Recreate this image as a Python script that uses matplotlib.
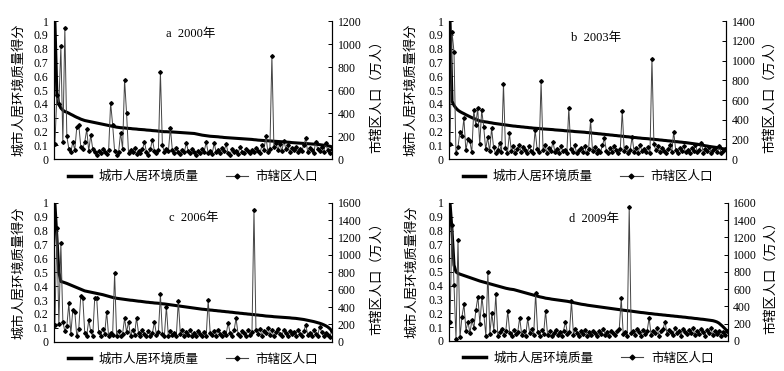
import matplotlib
matplotlib.use("Agg")
import matplotlib.pyplot as plt
from matplotlib.lines import Line2D

plt.rcParams['font.family'] = ['Liberation Serif', 'Noto Sans CJK SC', 'DejaVu Sans']
plt.rcParams['axes.unicode_minus'] = False

# 城市人居环境质量得分（按得分排序）与市辖区人口（万人）
quality_2000 = [
    1.0, 0.47, 0.40, 0.37, 0.355,
    0.345, 0.34, 0.333, 0.325, 0.318, 0.31, 0.303, 0.297, 0.29, 0.285, 0.28,
    0.277, 0.274, 0.271, 0.268, 0.265, 0.262, 0.259, 0.256, 0.253, 0.25, 0.247, 0.244, 0.241, 0.238, 0.235, 0.232, 0.23,
    0.228, 0.227, 0.226, 0.224, 0.223, 0.222, 0.220, 0.219, 0.218, 0.216, 0.215, 0.214, 0.213, 0.211, 0.210, 0.209,
    0.207, 0.206, 0.205, 0.203, 0.202, 0.200,
    0.199, 0.199, 0.198, 0.197, 0.197, 0.196, 0.195, 0.194, 0.193, 0.192, 0.191, 0.190, 0.189, 0.188, 0.187, 0.186,
    0.183, 0.180, 0.177, 0.174, 0.172, 0.170, 0.168, 0.166, 0.165, 0.164, 0.163, 0.162, 0.160, 0.159, 0.157,
    0.156, 0.155, 0.154, 0.153, 0.152, 0.151, 0.150, 0.149, 0.148, 0.147, 0.146, 0.145, 0.144, 0.143, 0.141, 0.140, 0.138,
    0.137, 0.136, 0.135, 0.134, 0.133, 0.132, 0.131, 0.130, 0.129, 0.128, 0.127, 0.126, 0.125, 0.124, 0.123, 0.122, 0.120,
    0.119, 0.118, 0.117, 0.116, 0.115, 0.114, 0.113, 0.112, 0.111, 0.110, 0.109, 0.108, 0.106, 0.105, 0.103, 0.101,
    0.099, 0.097, 0.094, 0.090,
]
pop_2000 = [
    130, 560, 480, 980, 150, 1140, 200, 90, 60, 150, 80, 280, 300, 110, 90, 150, 260, 70, 210, 90,
    60, 40, 70, 50, 90, 60, 45, 80, 490, 300, 70, 40, 60, 230, 90, 690, 400, 50, 80, 60,
    100, 45, 70, 55, 85, 150, 60, 40, 90, 170, 70, 55, 80, 760, 120, 60, 90, 70, 270, 80,
    50, 100, 65, 45, 80, 60, 140, 70, 50, 90, 60, 40, 75, 55, 85, 65, 150, 50, 70, 45,
    140, 60, 80, 50, 95, 70, 130, 55, 40, 85, 60, 75, 45, 110, 65, 50, 90, 70, 55, 80,
    60, 100, 70, 50, 120, 80, 200, 60, 90, 900, 110, 140, 80, 130, 70, 160, 90, 120, 60, 100,
    80, 110, 60, 90, 70, 120, 180, 60, 100, 80, 50, 150, 90, 70, 110, 60, 140, 80, 50, 90,
]

quality_2003 = [
    1.0, 0.42, 0.39, 0.37, 0.355,
    0.345, 0.337, 0.33, 0.322, 0.315, 0.308, 0.301, 0.295, 0.289, 0.283, 0.277,
    0.275, 0.272, 0.270, 0.268, 0.265, 0.263, 0.260, 0.258, 0.256, 0.254, 0.252, 0.250, 0.248, 0.246, 0.244, 0.242, 0.240,
    0.239, 0.237, 0.236, 0.234, 0.233, 0.231, 0.230, 0.228, 0.227, 0.225, 0.224, 0.223, 0.222, 0.220, 0.219, 0.218, 0.217,
    0.216, 0.215, 0.214, 0.212, 0.211, 0.210, 0.209, 0.208, 0.206, 0.205, 0.204, 0.203, 0.202, 0.200, 0.199, 0.198,
    0.197, 0.196, 0.195, 0.193,
    0.192, 0.190, 0.189, 0.187, 0.186, 0.184, 0.183, 0.181, 0.180, 0.178, 0.177, 0.175, 0.174, 0.172, 0.171, 0.169,
    0.168, 0.166, 0.165, 0.163, 0.162, 0.160, 0.159, 0.157, 0.156, 0.154, 0.153, 0.151, 0.150, 0.149, 0.148, 0.146, 0.145,
    0.144, 0.142, 0.141, 0.139, 0.138, 0.136, 0.135, 0.133, 0.132, 0.130, 0.129, 0.127, 0.126, 0.124, 0.123, 0.121, 0.120,
    0.118, 0.116, 0.114, 0.112, 0.110, 0.108, 0.105, 0.102, 0.100, 0.097, 0.095, 0.092, 0.090, 0.088, 0.086, 0.084,
    0.081, 0.078, 0.075, 0.072,
]
pop_2003 = [
    155, 1290, 1090, 60, 120, 280, 230, 414, 90, 200, 180, 70, 498, 347, 515, 150, 498, 330, 100, 220,
    80, 313, 120, 60, 90, 160, 70, 767, 110, 60, 262, 80, 130, 60, 100, 140, 70, 120, 90, 60,
    130, 80, 60, 296, 100, 70, 791, 90, 140, 60, 110, 80, 178, 70, 100, 60, 130, 80, 90, 60,
    522, 100, 70, 140, 60, 90, 110, 70, 130, 60, 100, 397, 80, 120, 60, 90, 70, 140, 212, 80,
    60, 110, 70, 130, 90, 60, 100, 488, 80, 120, 60, 90, 229, 70, 110, 60, 140, 80, 100, 70,
    120, 60, 1020, 150, 90, 130, 70, 110, 80, 60, 100, 140, 70, 279, 90, 60, 110, 80, 130, 70,
    90, 60, 110, 80, 140, 70, 90, 161, 60, 100, 80, 120, 60, 90, 110, 70, 130, 60, 80, 100,
]

quality_2006 = [
    1.0, 0.75, 0.50, 0.434, 0.43, 0.425,
    0.42, 0.414, 0.408, 0.402, 0.396, 0.39, 0.384, 0.378, 0.372, 0.366,
    0.363, 0.36, 0.357, 0.354, 0.351, 0.348, 0.345, 0.342, 0.339, 0.335, 0.331, 0.327, 0.323, 0.319, 0.316, 0.313,
    0.311, 0.309, 0.307, 0.305, 0.303, 0.301, 0.299, 0.298, 0.296, 0.294, 0.292, 0.291, 0.289, 0.287, 0.285, 0.284,
    0.282, 0.281, 0.279, 0.278, 0.277, 0.275, 0.273, 0.272, 0.270,
    0.268, 0.266, 0.264, 0.262, 0.260, 0.258, 0.256, 0.254, 0.252, 0.250, 0.248, 0.246, 0.244, 0.242, 0.240, 0.238, 0.236,
    0.234, 0.233, 0.231, 0.230, 0.228, 0.227, 0.225, 0.224, 0.222, 0.221, 0.219, 0.218, 0.216, 0.215, 0.213, 0.212, 0.210,
    0.208, 0.207, 0.205, 0.204, 0.202, 0.201, 0.199, 0.198, 0.196, 0.195, 0.193, 0.192, 0.190, 0.189, 0.187, 0.185,
    0.184, 0.183, 0.182, 0.180, 0.179, 0.178, 0.177, 0.176, 0.175, 0.174, 0.173, 0.172, 0.170, 0.169, 0.168, 0.166, 0.164,
    0.162, 0.160, 0.157, 0.154, 0.151, 0.148, 0.145, 0.141, 0.137, 0.133, 0.128, 0.122, 0.115, 0.107, 0.095, 0.080,
]
pop_2006 = [
    193, 1311, 200, 1137, 231, 120, 180, 443, 90, 366, 347, 60, 150, 528, 509, 100, 70, 250, 120, 60,
    501, 501, 110, 70, 150, 90, 347, 60, 100, 80, 790, 70, 120, 60, 90, 270, 110, 231, 60, 140,
    80, 278, 100, 60, 130, 90, 70, 120, 60, 100, 231, 80, 110, 547, 90, 70, 405, 60, 120, 80,
    100, 70, 470, 90, 130, 60, 110, 80, 140, 70, 100, 60, 120, 90, 70, 110, 60, 482, 100, 80,
    120, 70, 140, 90, 60, 110, 80, 220, 100, 70, 130, 270, 90, 60, 120, 100, 70, 140, 80, 110,
    1523, 130, 90, 150, 70, 120, 100, 160, 80, 130, 60, 110, 150, 90, 70, 140, 100, 60, 120, 90,
    110, 70, 140, 90, 60, 120, 193, 80, 100, 60, 130, 90, 70, 174, 110, 60, 100, 80, 50, 120,
]

quality_2009 = [
    1.0, 0.80, 0.55, 0.50, 0.49, 0.484,
    0.479, 0.474, 0.469, 0.464, 0.459, 0.454, 0.449, 0.444, 0.439, 0.434,
    0.430, 0.426, 0.422, 0.418, 0.414, 0.410, 0.406, 0.402, 0.398, 0.394, 0.390, 0.386, 0.382, 0.379, 0.376, 0.374, 0.372,
    0.368, 0.364, 0.360, 0.356, 0.352, 0.348, 0.344, 0.340, 0.336, 0.332, 0.328, 0.324, 0.320, 0.317, 0.314, 0.310,
    0.308, 0.306, 0.303, 0.301, 0.299, 0.297, 0.295, 0.293, 0.291, 0.289, 0.287, 0.284, 0.281, 0.278, 0.275, 0.272,
    0.269, 0.266, 0.264, 0.262, 0.259,
    0.257, 0.255, 0.253, 0.251, 0.249, 0.247, 0.245, 0.243, 0.241, 0.239, 0.237, 0.235, 0.233, 0.231, 0.229, 0.227,
    0.225, 0.223, 0.221, 0.219, 0.218, 0.216, 0.214, 0.212, 0.210, 0.208, 0.206, 0.205, 0.203, 0.201, 0.199, 0.198, 0.196,
    0.194, 0.193, 0.191, 0.190, 0.188, 0.187, 0.185, 0.184, 0.182, 0.181, 0.179, 0.178, 0.176, 0.175, 0.173, 0.172,
    0.170, 0.168, 0.167, 0.165, 0.163, 0.162, 0.160, 0.158, 0.157, 0.155, 0.153, 0.151, 0.149, 0.147, 0.143, 0.138,
    0.130, 0.118, 0.105, 0.090, 0.075,
]
pop_2009 = [
    225, 1348, 650, 20, 1174, 40, 283, 426, 120, 225, 90, 244, 150, 360, 515, 200, 515, 302, 60, 798,
    80, 322, 120, 542, 60, 100, 140, 70, 110, 349, 90, 60, 130, 80, 100, 271, 70, 120, 60, 263,
    90, 140, 70, 554, 100, 60, 130, 80, 349, 70, 110, 60, 90, 130, 70, 100, 60, 120, 225, 80,
    100, 465, 70, 140, 90, 60, 110, 80, 130, 60, 100, 70, 120, 90, 60, 110, 80, 140, 70, 100,
    60, 120, 90, 70, 110, 140, 496, 80, 100, 60, 1550, 90, 120, 70, 140, 100, 60, 130, 80, 110,
    271, 70, 120, 90, 150, 60, 110, 140, 225, 80, 130, 100, 70, 150, 90, 120, 60, 140, 100, 80,
    130, 90, 150, 70, 110, 80, 140, 100, 60, 130, 90, 150, 70, 110, 80, 120, 60, 100, 70, 110,
]

panel_titles = ["a  2000年", "b  2003年", "c  2006年", "d  2009年"]
pop_max = [1200, 1400, 1600, 1600]
left_ticks = [0, 0.1, 0.2, 0.3, 0.4, 0.5, 0.6, 0.7, 0.8, 0.9, 1.0]

panels = [
    (quality_2000, pop_2000),
    (quality_2003, pop_2003),
    (quality_2006, pop_2006),
    (quality_2009, pop_2009),
]

# 各子图在画布中的位置 [left, bottom, width, height]
boxes = [
    [0.069, 0.571, 0.355, 0.372],
    [0.573, 0.571, 0.353, 0.372],
    [0.069, 0.079, 0.355, 0.374],
    [0.573, 0.081, 0.355, 0.372],
]
title_pos = [(0.49, 0.91), (0.53, 0.88), (0.50, 0.89), (0.52, 0.88)]
left_lab_x = [-0.102, -0.115, -0.102, -0.112]
right_lab_x = [1.137, 1.134, 1.137, 1.132]

fig = plt.figure(figsize=(7.84, 3.71), dpi=100)

for i, (qual, pop) in enumerate(panels):
    ax = fig.add_axes(boxes[i])
    ax2 = ax.twinx()
    x = list(range(len(qual)))

    ax.plot(x, qual, color='black', lw=2.2, solid_joinstyle='round', zorder=3)
    ax2.plot(x, pop, color='#444444', lw=0.7, marker='D', markersize=1.9,
             markerfacecolor='black', markeredgecolor='black', zorder=2)

    ax.set_xlim(-0.4, len(qual) - 0.6)
    ax.set_ylim(0, 1)
    ax2.set_ylim(0, pop_max[i])
    ax.set_yticks(left_ticks)
    ax.set_yticklabels([f"{v:g}" for v in left_ticks])
    ax2.set_yticks(range(0, pop_max[i] + 1, 200))
    ax.set_xticks([])

    for a in (ax, ax2):
        a.spines['top'].set_visible(False)
        for s in a.spines.values():
            s.set_linewidth(0.8)
        a.tick_params(axis='y', direction='in', length=3, width=0.7, labelsize=8.5, pad=4)

    ax.set_ylabel("城市人居环境质量得分", fontsize=9.5, family=['Noto Sans CJK SC'])
    ax.yaxis.set_label_coords(left_lab_x[i], 0.5)
    ax2.set_ylabel("市辖区人口（万人）", fontsize=9.5, family=['Noto Sans CJK SC'])
    ax2.yaxis.set_label_coords(right_lab_x[i], 0.48)

    ax.text(title_pos[i][0], title_pos[i][1], panel_titles[i], transform=ax.transAxes,
            ha='center', va='center', fontsize=9)

    handles = [
        Line2D([0], [0], color='black', lw=2.5),
        Line2D([0], [0], color='#444444', lw=0.8, marker='D', markersize=2.5,
               markerfacecolor='black', markeredgecolor='black'),
    ]
    ax.legend(handles, ["城市人居环境质量", "市辖区人口"], loc='center',
              bbox_to_anchor=(0.5, -0.125), ncol=2, frameon=False,
              handlelength=1.8, columnspacing=2.2, handletextpad=0.6,
              prop={'family': ['Noto Sans CJK SC'], 'size': 9})

fig.savefig("out.png", dpi=100)
